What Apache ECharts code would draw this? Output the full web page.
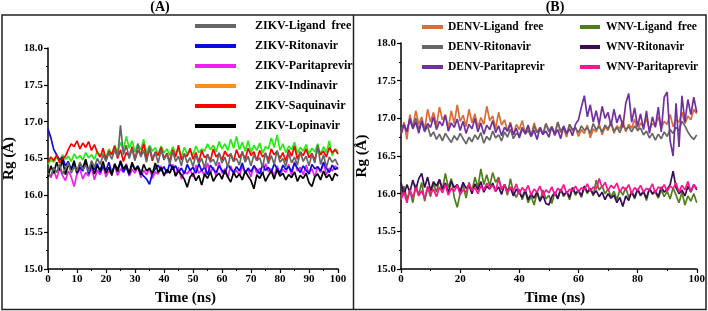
<!DOCTYPE html>
<html>
<head>
<meta charset="utf-8">
<script src="https://cdn.jsdelivr.net/npm/echarts@6/dist/echarts.min.js"></script>
<style>
  html, body { margin: 0; padding: 0; background: #fff; }
  #chart { width: 708px; height: 311px; }
</style>
</head>
<body>
<div id="chart"></div>
<script>
// time axis (ns), one sample per ns
const time = [0,1,2,3,4,5,6,7,8,9,10,11,12,13,14,15,16,17,18,19,20,21,22,23,24,25,26,27,28,29,30,
  31,32,33,34,35,36,37,38,39,40,41,42,43,44,45,46,47,48,49,50,51,52,53,54,55,56,57,58,59,60,
  61,62,63,64,65,66,67,68,69,70,71,72,73,74,75,76,77,78,79,80,81,82,83,84,85,86,87,88,89,90,
  91,92,93,94,95,96,97,98,99,100];

// (A) ZIKV, Rg in Å
const zikvLigandFree = [16.30,16.26,16.38,16.31,16.42,16.29,16.36,16.44,16.30,16.39,
  16.33,16.45,16.35,16.41,16.32,16.47,16.38,16.50,16.42,16.55,
  16.46,16.58,16.49,16.62,16.52,16.95,16.55,16.68,16.50,16.63,
  16.47,16.70,16.52,16.61,16.45,16.66,16.50,16.58,16.44,16.62,
  16.48,16.56,16.42,16.60,16.46,16.53,16.40,16.57,16.44,16.51,
  16.39,16.55,16.43,16.50,16.37,16.56,16.45,16.49,16.40,16.58,
  16.44,16.52,16.38,16.57,16.46,16.50,16.41,16.60,16.45,16.53,
  16.40,16.55,16.47,16.51,16.38,16.58,16.43,16.54,16.42,16.61,
  16.45,16.50,16.39,16.57,16.44,16.52,16.41,16.59,16.46,16.53,
  16.40,16.56,16.44,16.68,16.42,16.55,16.38,16.52,16.45,16.49,16.41];
const zikvRitonavir = [16.90,16.78,16.62,16.55,16.48,16.52,16.40,16.46,16.35,16.42,
  16.30,16.38,16.33,16.44,16.29,16.40,16.35,16.43,16.31,16.39,
  16.34,16.45,16.30,16.41,16.36,16.44,16.32,16.38,16.28,16.42,
  16.35,16.40,16.31,16.26,16.22,16.15,16.30,16.36,16.41,16.33,
  16.39,16.30,16.44,16.35,16.40,16.31,16.37,16.29,16.42,16.34,
  16.38,16.30,16.43,16.33,16.39,16.28,16.41,16.35,16.31,16.40,
  16.34,16.29,16.42,16.36,16.31,16.39,16.33,16.44,16.30,16.37,
  16.32,16.40,16.35,16.29,16.42,16.34,16.38,16.31,16.43,16.36,
  16.30,16.41,16.35,16.39,16.32,16.44,16.37,16.31,16.40,16.34,
  16.29,16.42,16.36,16.39,16.33,16.45,16.37,16.31,16.41,16.35,16.38];
const zikvParitaprevir = [16.30,16.24,16.35,16.22,16.38,16.27,16.20,16.33,16.25,16.12,
  16.29,16.36,16.22,16.31,16.26,16.38,16.21,16.34,16.28,16.40,
  16.25,16.33,16.29,16.41,16.27,16.36,16.31,16.43,16.26,16.35,
  16.30,16.39,16.24,16.34,16.28,16.37,16.23,16.32,16.29,16.40,
  16.26,16.35,16.31,16.42,16.27,16.38,16.22,16.33,16.29,16.36,
  16.25,16.41,16.30,16.34,16.27,16.44,16.31,16.38,16.26,16.45,
  16.30,16.36,16.24,16.40,16.29,16.34,16.27,16.39,16.31,16.35,
  16.25,16.41,16.30,16.37,16.28,16.43,16.32,16.36,16.26,16.40,
  16.29,16.35,16.31,16.42,16.27,16.46,16.33,16.38,16.28,16.41,
  16.30,16.36,16.25,16.39,16.31,16.44,16.28,16.37,16.33,16.40,16.35];
const zikvIndinavir = [16.42,16.48,16.45,16.52,16.47,16.55,16.49,16.53,16.46,16.56,
  16.50,16.54,16.48,16.58,16.51,16.55,16.49,16.60,16.53,16.57,
  16.52,16.63,16.56,16.68,16.58,16.72,16.61,16.80,16.64,16.74,
  16.59,16.70,16.62,16.76,16.57,16.68,16.60,16.65,16.55,16.67,
  16.58,16.63,16.54,16.66,16.57,16.62,16.53,16.65,16.56,16.61,
  16.55,16.67,16.58,16.63,16.60,16.70,16.62,16.68,16.59,16.73,
  16.63,16.70,16.61,16.76,16.64,16.80,16.62,16.72,16.60,16.74,
  16.58,16.68,16.61,16.71,16.57,16.66,16.63,16.78,16.65,16.82,
  16.61,16.70,16.58,16.67,16.62,16.72,16.57,16.65,16.60,16.69,
  16.56,16.64,16.59,16.70,16.55,16.66,16.58,16.74,16.54,16.63,16.60];
const zikvSaquinavir = [16.45,16.52,16.47,16.55,16.44,16.50,16.53,16.62,16.70,16.66,
  16.74,16.63,16.71,16.65,16.73,16.61,16.69,16.58,16.52,16.64,
  16.48,16.60,16.55,16.67,16.50,16.62,16.46,16.58,16.53,16.66,
  16.49,16.61,16.55,16.70,16.51,16.63,16.47,16.59,16.54,16.65,
  16.50,16.57,16.46,16.62,16.52,16.68,16.48,16.56,16.53,16.64,
  16.49,16.58,16.45,16.61,16.51,16.55,16.47,16.63,16.52,16.57,
  16.48,16.60,16.53,16.56,16.46,16.62,16.51,16.58,16.49,16.64,
  16.54,16.59,16.47,16.61,16.52,16.57,16.48,16.63,16.55,16.60,
  16.50,16.58,16.46,16.62,16.53,16.67,16.49,16.59,16.54,16.63,
  16.51,16.57,16.48,16.64,16.55,16.60,16.52,16.65,16.58,16.62,16.56];
const zikvLopinavir = [16.25,16.40,16.30,16.45,16.34,16.48,16.28,16.42,16.35,16.47,
  16.31,16.43,16.37,16.49,16.33,16.44,16.29,16.40,16.34,16.46,
  16.30,16.38,16.27,16.43,16.32,16.47,16.36,16.41,16.30,16.45,
  16.34,16.39,16.28,16.42,16.33,16.37,16.29,16.44,16.31,16.38,
  16.27,16.35,16.30,16.40,16.26,16.33,16.28,16.22,16.11,16.25,
  16.30,16.20,16.27,16.14,16.29,16.23,16.32,16.19,16.26,16.30,
  16.22,16.34,16.25,16.18,16.31,16.24,16.29,16.21,16.33,16.26,
  16.20,16.09,16.28,16.23,16.31,16.19,16.27,16.33,16.22,16.35,
  16.26,16.30,16.21,16.28,16.24,16.32,16.19,16.27,16.23,16.30,
  16.17,16.12,16.25,16.29,16.21,16.33,16.24,16.28,16.20,16.30,16.26];

// (B) DENV / WNV, Rg in Å
const denvLigandFree = [16.80,16.95,16.72,17.05,16.88,17.10,16.92,17.02,16.85,17.12,
  16.95,17.08,16.90,17.15,16.98,17.05,16.87,17.10,16.93,17.18,
  16.96,17.04,16.89,17.12,16.94,17.06,16.88,17.01,16.92,17.16,
  16.97,17.03,16.86,17.08,16.91,16.98,16.83,16.95,16.78,16.92,
  16.85,16.97,16.80,16.90,16.76,16.94,16.82,16.88,16.79,16.93,
  16.84,16.89,16.77,16.95,16.81,16.87,16.75,16.92,16.83,16.88,
  16.76,16.85,16.80,16.91,16.74,16.86,16.82,16.93,16.78,16.89,
  16.84,16.95,16.80,16.90,16.86,16.97,16.82,16.92,16.87,16.99,
  16.83,16.94,16.88,17.00,16.85,16.93,16.90,17.02,16.87,16.96,
  16.92,17.05,16.89,16.98,16.95,17.08,16.93,17.03,16.98,17.12,17.06];
const denvRitonavir = [16.85,16.92,16.83,16.98,16.88,17.00,16.86,16.95,16.82,16.90,
  16.76,16.82,16.72,16.79,16.70,16.80,16.74,16.68,16.77,16.71,
  16.80,16.73,16.66,16.75,16.69,16.78,16.72,16.81,16.67,16.76,
  16.71,16.83,16.74,16.78,16.70,16.82,16.75,16.86,16.73,16.80,
  16.77,16.88,16.79,16.84,16.76,16.90,16.81,16.86,16.78,16.93,
  16.82,16.88,16.80,16.95,16.83,16.89,16.79,16.92,16.85,16.87,
  16.81,16.90,16.84,16.88,16.80,16.93,16.85,16.89,16.82,16.91,
  16.86,16.94,16.83,16.88,16.81,16.92,16.85,16.89,16.82,16.90,
  16.84,16.87,16.78,16.83,16.74,16.80,16.71,16.79,16.73,16.82,
  16.76,16.85,16.80,16.88,16.84,16.96,16.90,16.82,16.76,16.72,16.78];
const denvParitaprevir = [16.78,16.92,16.82,17.00,16.86,16.95,16.80,16.97,16.84,16.93,
  16.88,17.02,16.85,16.96,16.90,17.04,16.83,16.94,16.88,16.99,
  16.84,16.96,16.80,16.92,16.86,17.00,16.82,16.94,16.79,16.91,
  16.85,16.97,16.81,16.90,16.77,16.88,16.83,16.93,16.78,16.87,
  16.74,16.86,16.80,16.91,16.76,16.84,16.72,16.88,16.79,16.83,
  16.75,16.89,16.78,16.85,16.73,16.90,16.80,16.86,16.77,16.92,
  16.98,17.15,17.30,17.02,17.18,16.95,17.10,16.92,17.16,17.00,
  17.08,16.90,17.12,16.94,17.05,16.88,17.20,17.33,16.95,17.14,
  16.89,17.06,16.85,17.10,16.80,17.02,16.88,17.15,16.82,17.28,
  17.35,16.70,16.50,17.20,16.62,17.30,16.95,17.25,17.05,17.28,17.08];
const wnvLigandFree = [15.95,16.10,15.92,16.05,15.88,16.12,15.98,16.15,15.90,16.08,
  15.96,16.14,16.02,16.18,16.05,16.27,16.08,16.20,15.95,15.82,
  16.00,16.12,15.94,16.15,16.03,16.22,16.08,16.33,16.12,16.25,
  16.10,16.28,16.15,16.22,16.05,16.12,15.98,16.20,16.02,15.95,
  16.06,15.92,16.04,15.88,15.97,15.85,16.01,15.90,16.05,15.93,
  15.98,15.87,16.02,15.94,16.06,15.96,16.03,15.92,16.08,15.98,
  16.04,15.95,16.10,16.00,16.07,15.97,16.18,16.05,16.10,16.00,
  16.06,15.96,16.03,15.92,16.05,15.98,16.08,15.95,16.02,15.93,
  16.06,15.97,16.04,15.91,16.07,15.99,16.02,15.94,16.05,15.96,
  16.03,15.93,16.08,15.98,15.88,16.02,15.85,15.97,15.90,16.00,15.88];
const wnvRitonavir = [16.15,15.98,16.12,16.02,16.18,16.05,16.20,16.27,16.08,16.22,
  16.04,16.16,16.10,16.19,16.06,16.14,16.01,16.17,16.08,16.12,
  16.03,16.15,16.07,16.11,16.00,16.13,16.05,16.16,16.02,16.10,
  16.06,16.14,16.03,16.09,15.99,16.12,16.04,16.08,15.97,16.06,
  16.01,15.95,16.05,15.92,16.00,15.94,16.03,15.90,15.98,15.87,
  15.85,15.96,16.02,15.93,16.06,15.98,16.03,15.95,16.08,16.00,
  16.05,15.97,16.10,16.02,16.07,15.99,16.04,15.96,16.02,15.92,
  16.00,15.94,15.98,15.88,15.95,15.83,15.97,15.91,16.03,15.95,
  16.06,15.98,16.02,15.94,16.07,16.00,16.04,15.96,16.09,16.02,
  16.06,16.12,16.30,16.08,16.00,16.05,15.97,16.10,16.02,16.12,16.05];
const wnvParitaprevir = [15.92,16.02,15.88,16.05,15.95,16.08,15.97,16.04,15.93,16.10,
  16.00,16.06,15.96,16.09,16.01,16.12,15.98,16.07,16.03,16.11,
  15.99,16.05,16.02,16.13,16.04,16.08,16.00,16.10,16.05,16.14,
  16.07,16.11,16.03,16.20,16.06,16.12,16.01,16.09,16.04,16.13,
  16.00,16.08,16.03,16.11,15.98,16.06,16.02,16.10,15.97,16.05,
  16.01,16.09,15.98,16.07,16.03,16.12,16.00,16.06,16.04,16.10,
  16.02,16.08,16.05,16.13,16.03,16.09,16.06,16.20,16.08,16.15,
  16.04,16.11,16.07,16.14,16.02,16.09,16.05,16.12,16.00,16.08,
  16.04,16.11,16.02,16.07,16.05,16.13,16.01,16.09,16.06,16.12,
  16.03,16.10,16.07,16.14,16.02,16.11,16.05,16.16,16.03,16.12,16.07];

const yTicks = [15.0, 15.5, 16.0, 16.5, 17.0, 17.5, 18.0];

const FONT = '"Liberation Serif", "Times New Roman", serif';

const chart = echarts.init(document.getElementById('chart'));

// pair time with values
function pts(vals) {
  return vals.map((v, i) => [time[i], v]);
}

function line(name, vals, color, idx) {
  return {
    name: name,
    type: 'line',
    xAxisIndex: idx,
    yAxisIndex: idx,
    data: pts(vals),
    showSymbol: false,
    symbol: 'none',
    lineStyle: { color: color, width: 1.7 },
    itemStyle: { color: color }
  };
}

function xAxis(idx, step) {
  return {
    type: 'value',
    gridIndex: idx,
    min: 0,
    max: 100,
    interval: step,
    name: 'Time (ns)',
    nameLocation: 'middle',
    nameGap: 22,
    nameTextStyle: {
      fontFamily: FONT, fontWeight: 'bold', fontSize: 15, color: '#000',
      padding: idx === 0 ? [0, 15, 0, 0] : [0, 0, 0, 12]
    },
    axisLine: { lineStyle: { color: '#000', width: 1.5 } },
    axisTick: { length: 4, lineStyle: { color: '#000', width: 1.2 } },
    minorTick: { show: true, splitNumber: 2, length: 2, lineStyle: { color: '#000', width: 1 } },
    axisLabel: { fontFamily: FONT, fontWeight: 'bold', fontSize: 11, color: '#000', margin: 5 },
    splitLine: { show: false }
  };
}

function yAxis(idx) {
  return {
    type: 'value',
    gridIndex: idx,
    min: yTicks[0],
    max: yTicks[yTicks.length - 1],
    interval: 0.5,
    name: 'Rg (Å)',
    nameLocation: 'middle',
    nameGap: 31,
    nameTextStyle: { fontFamily: FONT, fontWeight: 'bold', fontSize: 15, color: '#000' },
    axisLine: { show: true, lineStyle: { color: '#000', width: 1.5 } },
    axisTick: { length: 4, lineStyle: { color: '#000', width: 1.2 } },
    minorTick: { show: true, splitNumber: 2, length: 2, lineStyle: { color: '#000', width: 1 } },
    axisLabel: {
      fontFamily: FONT, fontWeight: 'bold', fontSize: 11, color: '#000', margin: 5,
      formatter: v => v.toFixed(1)
    },
    splitLine: { show: false }
  };
}

function legend(left, top, names, colors, w, pad, fs) {
  return {
    orient: 'vertical',
    left: left,
    top: top,
    padding: 0,
    icon: 'rect',
    itemWidth: w,
    itemHeight: 4,
    itemGap: 6,
    selectedMode: false,
    data: names.map((n, i) => ({ name: n, itemStyle: { color: colors[i] } })),
    textStyle: {
      fontFamily: FONT, fontWeight: 'bold', fontSize: fs, color: '#000',
      lineHeight: 14, padding: [0, 0, 0, pad]
    }
  };
}

const option = {
  animation: false,
  backgroundColor: '#fff',
  title: [
    { text: '(A)', left: 160, top: 0, padding: 0, textAlign: 'center',
      textStyle: { fontFamily: FONT, fontWeight: 'bold', fontSize: 14, color: '#000' } },
    { text: '(B)', left: 555, top: 0, padding: 0, textAlign: 'center',
      textStyle: { fontFamily: FONT, fontWeight: 'bold', fontSize: 14, color: '#000' } }
  ],
  grid: [
    { left: 48, top: 48, width: 290, height: 224 },
    { left: 401, top: 43, width: 297, height: 229 }
  ],
  xAxis: [xAxis(0, 10), xAxis(1, 20)],
  yAxis: [yAxis(0), yAxis(1)],
  legend: [
    legend(195, 19,
      ['ZIKV-Ligand  free', 'ZIKV-Ritonavir', 'ZIKV-Paritaprevir', 'ZIKV-Indinavir', 'ZIKV-Saquinavir', 'ZIKV-Lopinavir'],
      ['#666666', '#0a0ae0', '#f020f0', '#f5901e', '#ff0000', '#000000'], 41, 14, 12),
    legend(422, 20,
      ['DENV-Ligand  free', 'DENV-Ritonavir', 'DENV-Paritaprevir'],
      ['#dc6c34', '#666666', '#7030a0'], 21, 0, 11.5),
    legend(580, 20,
      ['WNV-Ligand  free', 'WNV-Ritonavir', 'WNV-Paritaprevir'],
      ['#4f7f1b', '#3a0a55', '#ff1493'], 20, 1, 11.5)
  ],
  series: [
    line('ZIKV-Indinavir', zikvIndinavir, '#22ee11', 0),
    line('ZIKV-Paritaprevir', zikvParitaprevir, '#f020f0', 0),
    line('ZIKV-Ritonavir', zikvRitonavir, '#0a0ae0', 0),
    line('ZIKV-Saquinavir', zikvSaquinavir, '#ff0000', 0),
    line('ZIKV-Lopinavir', zikvLopinavir, '#000000', 0),
    line('ZIKV-Ligand  free', zikvLigandFree, '#666666', 0),
    line('DENV-Ligand  free', denvLigandFree, '#dc6c34', 1),
    line('DENV-Ritonavir', denvRitonavir, '#666666', 1),
    line('DENV-Paritaprevir', denvParitaprevir, '#7030a0', 1),
    line('WNV-Ligand  free', wnvLigandFree, '#4f7f1b', 1),
    line('WNV-Ritonavir', wnvRitonavir, '#3a0a55', 1),
    line('WNV-Paritaprevir', wnvParitaprevir, '#ff1493', 1)
  ],
  // panel frames
  graphic: [
    { type: 'rect', silent: true, shape: { x: 2, y: 15, width: 704, height: 294.5 },
      style: { fill: 'none', stroke: '#222', lineWidth: 1.5 } },
    { type: 'line', silent: true, shape: { x1: 353.5, y1: 15, x2: 353.5, y2: 310 },
      style: { stroke: '#222', lineWidth: 1.5 } }
  ]
};

chart.setOption(option);
</script>
</body>
</html>
